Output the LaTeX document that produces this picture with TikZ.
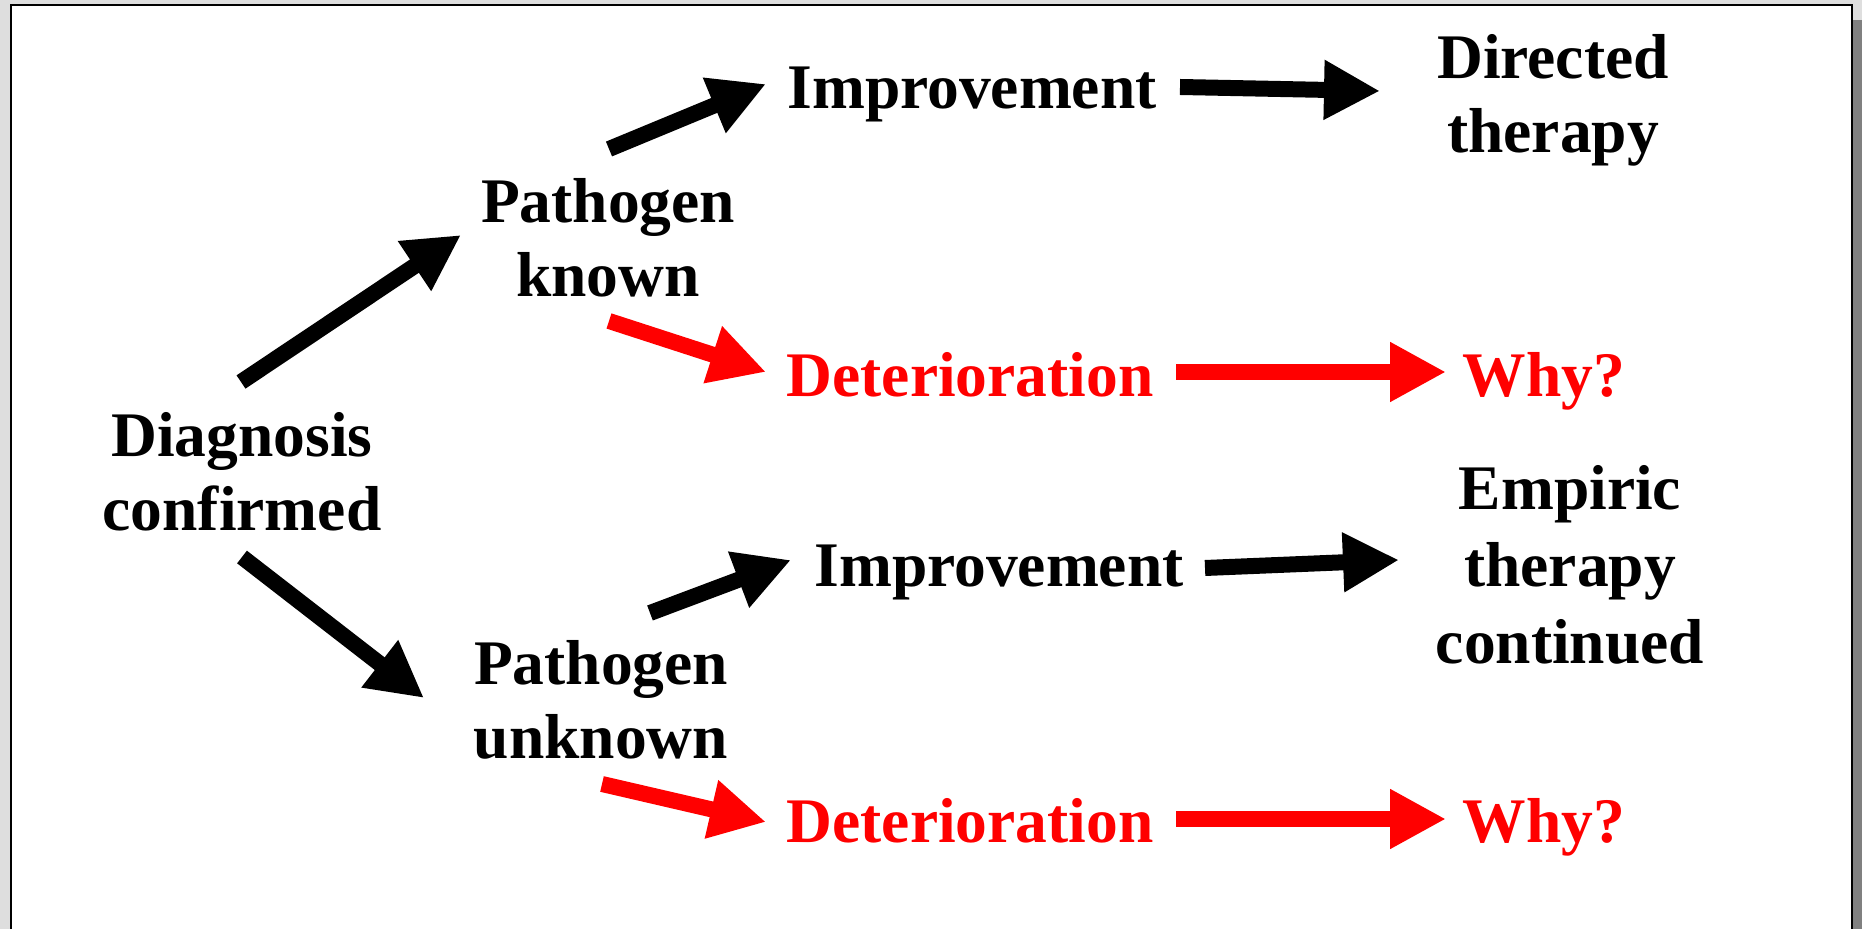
\documentclass[tikz,border=0pt]{standalone}
\usepackage{fontspec}
\setmainfont{Liberation Serif}
\usetikzlibrary{arrows.meta}
\definecolor{pagegray}{HTML}{DEDEDE}
\definecolor{shadowgray}{HTML}{808080}
\definecolor{alarm}{HTML}{FF0000}
\begin{document}
\begin{tikzpicture}[x=0.5pt,y=-0.5pt,
  lbl/.style={font=\fontsize{31.75}{37}\selectfont\bfseries, inner sep=0pt, align=center},
  wide/.style={font=\fontsize{31.75}{38.5}\selectfont\bfseries},
  warn/.style={lbl, text=alarm},
  flow/.style={line width=8pt, line cap=butt, -{Triangle[length=28pt,width=28pt]}},
  goodflow/.style={flow, draw=black, fill=black},
  badflow/.style={flow, draw=alarm, fill=alarm}]

% slide page and its frame
\fill[pagegray] (0,0) rectangle (1862,929);
\useasboundingbox (0,0) rectangle (1862,929);
\fill[shadowgray] (1853,20) rectangle (1862,929);
\filldraw[fill=white, draw=black, line width=1pt] (11,5) -- (1851.5,5) -- (1851.5,940) -- (11,940) -- cycle;

% labels
\node[lbl, anchor=north] (diag) at (242,412) {Diagnosis\\confirmed};
\node[lbl, anchor=north] (pk) at (608,178) {Pathogen\\known};
\node[lbl, anchor=north] (pu) at (601,640) {Pathogen\\unknown};
\node[lbl, anchor=base] (imp1) at (972,109) {Improvement};
\node[lbl, anchor=base] (imp2) at (999,587) {Improvement};
\node[warn, anchor=base] (det1) at (970,397) {Deterioration};
\node[warn, anchor=base] (det2) at (970,842) {Deterioration};
\node[lbl, anchor=north] (dir) at (1553,34) {Directed\\therapy};
\node[lbl, wide, anchor=north] (emp) at (1570,465) {Empiric\\therapy\\continued};
\node[warn, anchor=base] (why1) at (1544,397) {Why?};
\node[warn, anchor=base] (why2) at (1544,842) {Why?};

% arrow end points
\coordinate (diag-up) at (241,382);
\coordinate (pk-in) at (461,235);
\coordinate (diag-dn) at (242,557);
\coordinate (pu-in) at (424,698);
\coordinate (pk-up) at (609,149);
\coordinate (imp1-in) at (766,84);
\coordinate (pk-dn) at (609,321);
\coordinate (det1-in) at (766,372);
\coordinate (imp1-out) at (1180,87);
\coordinate (dir-in) at (1380,91);
\coordinate (det1-out) at (1176,372);
\coordinate (why1-in) at (1446,372);
\coordinate (pu-up) at (650,613);
\coordinate (imp2-in) at (791,560);
\coordinate (imp2-out) at (1205,568);
\coordinate (emp-in) at (1399,560);
\coordinate (pu-dn) at (602,784);
\coordinate (det2-in) at (766,822);
\coordinate (det2-out) at (1176,819);
\coordinate (why2-in) at (1446,819);

% connectors
\draw[goodflow] (diag-up) -- (pk-in);
\draw[goodflow] (diag-dn) -- (pu-in);
\draw[goodflow] (pk-up) -- (imp1-in);
\draw[badflow] (pk-dn) -- (det1-in);
\draw[goodflow] (imp1-out) -- (dir-in);
\draw[badflow] (det1-out) -- (why1-in);
\draw[goodflow] (pu-up) -- (imp2-in);
\draw[goodflow] (imp2-out) -- (emp-in);
\draw[badflow] (pu-dn) -- (det2-in);
\draw[badflow] (det2-out) -- (why2-in);
\end{tikzpicture}
\end{document}
